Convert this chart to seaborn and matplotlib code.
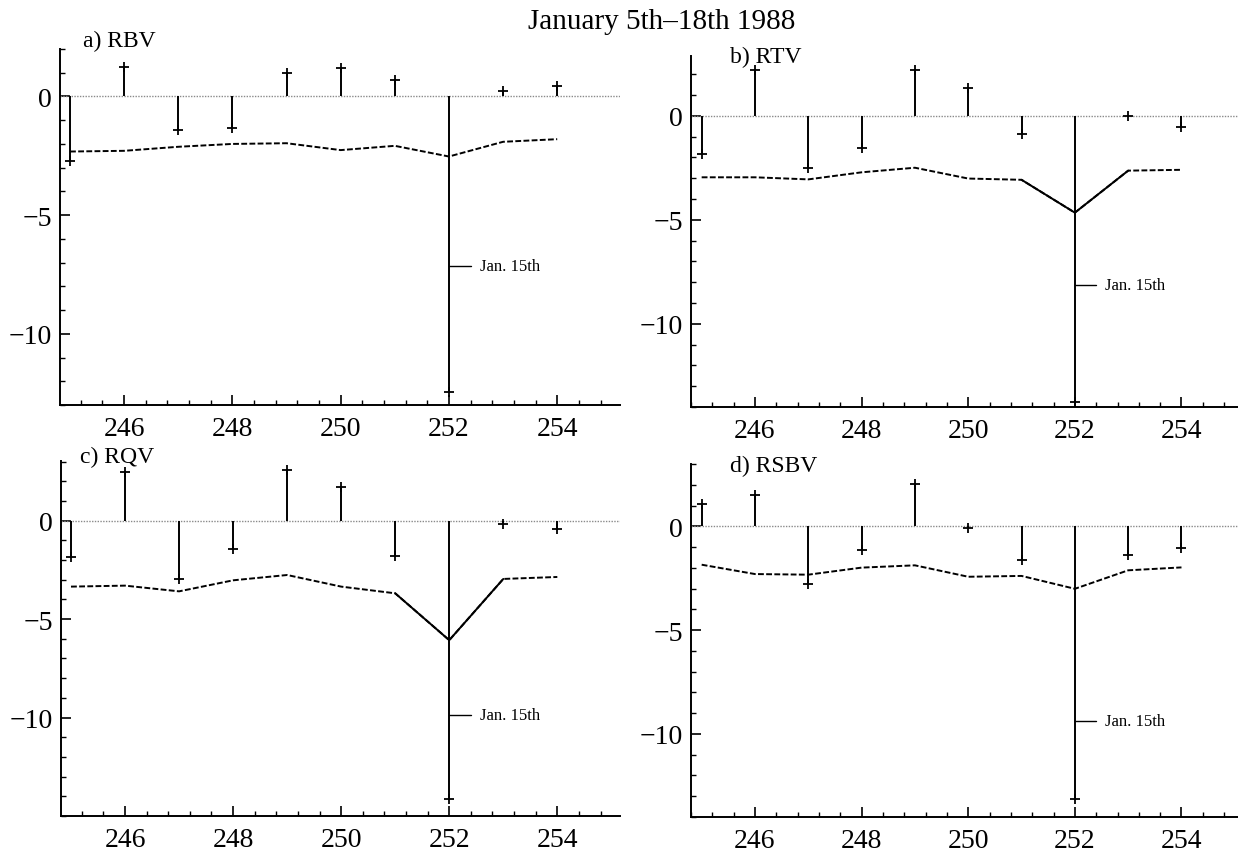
import matplotlib
matplotlib.use("Agg")
import matplotlib.pyplot as plt
import seaborn as sns
import numpy as np
import pandas as pd
from matplotlib.ticker import MultipleLocator, FixedLocator

# ---------------- data ----------------
days = [245, 246, 247, 248, 249, 250, 251, 252, 253, 254]

rbv = [-2.73, 1.25, -1.42, -1.34, 0.98, 1.2, 0.7, -12.47, 0.24, 0.42]
rbv_lim = [-2.32, -2.29, -2.12, -2.0, -1.97, -2.26, -2.08, -2.53, -1.91, -1.8]

rtv = [-1.82, 2.22, -2.5, -1.55, 2.2, 1.34, -0.88, -13.75, -0.03, -0.55]
rtv_lim = [-2.96, -2.96, -3.06, -2.72, -2.5, -3.02, -3.08, -4.66, -2.64, -2.6]

rqv = [-1.87, 2.47, -2.96, -1.45, 2.58, 1.72, -1.82, -14.15, -0.15, -0.42]
rqv_lim = [-3.35, -3.3, -3.59, -3.03, -2.76, -3.35, -3.69, -6.07, -2.96, -2.86]

rsbv = [1.08, 1.53, -2.78, -1.14, 2.03, -0.1, -1.62, -13.15, -1.4, -1.06]
rsbv_lim = [-1.85, -2.3, -2.33, -1.99, -1.88, -2.43, -2.39, -3.01, -2.12, -1.98]

panel_labels = ["a) RBV", "b) RTV", "c) RQV", "d) RSBV"]
event_day = 252
event_label = "Jan. 15th"
event_label_y = [-7.16, -8.16, -9.86, -9.39]
title = "January 5th\u201318th 1988"
x_major = [246, 248, 250, 252, 254]
y_major = [-10, -5, 0]

# ---------------- style ----------------
sns.set_theme(style="white")
plt.rcParams["font.family"] = ["Liberation Serif", "DejaVu Serif"]
plt.rcParams["mathtext.fontset"] = "stix"

fig = plt.figure(figsize=(12.38, 8.54), dpi=100)

W, H = 1238.0, 854.0
# pixel boxes (left, top, right, bottom)
boxes = [(60, 50, 620, 406), (691, 57, 1238, 408),
         (61, 462, 620, 817), (691, 465, 1238, 818)]
xlims = [(244.815, 255.16), (244.8, 255.06), (244.815, 255.16), (244.8, 255.06)]
ylims = [(-13.0, 2.0), (-14.0, 2.87), (-15.0, 3.03), (-14.0, 3.0)]
label_pos = [(0.041, 1.008), (0.072, 0.983), (0.034, 0.996), (0.072, 0.981)]
solid_peak = [False, True, True, False]

series = [(rbv, rbv_lim), (rtv, rtv_lim), (rqv, rqv_lim), (rsbv, rsbv_lim)]

for i, (vals, lim) in enumerate(series):
    l, t, r, b = boxes[i]
    ax = fig.add_axes([l / W, 1 - b / H, (r - l) / W, (b - t) / H])
    df = pd.DataFrame({"day": days, "val": vals, "lim": lim})

    ax.axhline(0, color="#8a8a8a", lw=1.0, ls=(0, (1, 1)), zorder=1)

    # stems
    ax.vlines(df["day"], 0, df["val"], color="black", lw=1.4, zorder=3)
    ax.plot(df["day"], df["val"], ls="none", marker="+", ms=7, mew=1.3,
            color="black", zorder=4)

    # threshold line
    sns.lineplot(data=df, x="day", y="lim", ax=ax, color="black", lw=1.4,
                 linestyle=(0, (3, 1.2)), zorder=2)
    if solid_peak[i]:
        sub = df.iloc[6:9]
        sns.lineplot(data=sub, x="day", y="lim", ax=ax, color="black",
                     lw=1.4, zorder=2)

    # event annotation
    ev = event_label_y[i]
    ax.plot([event_day, event_day + 0.4], [ev, ev], color="black", lw=1.0)
    ax.text(event_day + 0.57, ev, event_label, fontsize=12, va="center",
            ha="left", color="black")

    ax.set_xlim(*xlims[i])
    ax.set_ylim(*ylims[i])
    ax.set_xlabel("")
    ax.set_ylabel("")

    ax.xaxis.set_major_locator(FixedLocator(x_major))
    ax.xaxis.set_minor_locator(MultipleLocator(0.4))
    ax.yaxis.set_major_locator(FixedLocator(y_major))
    ax.yaxis.set_minor_locator(MultipleLocator(1))
    ax.set_xticklabels([str(v) for v in x_major])
    ax.set_yticklabels(["\u221210", "\u22125", "0"])

    ax.tick_params(axis="both", which="major", direction="in", length=7,
                   width=1.2, colors="black", labelsize=20, pad=6,
                   bottom=True, left=True)
    ax.tick_params(axis="both", which="minor", direction="in", length=3.5,
                   width=1.0, colors="black", bottom=True, left=True)
    ax.tick_params(axis="x", which="major", pad=8)

    for s in ["top", "right"]:
        ax.spines[s].set_visible(False)
    for s in ["left", "bottom"]:
        ax.spines[s].set_color("black")
        ax.spines[s].set_linewidth(1.4)
    ax.set_facecolor("white")

    ax.text(label_pos[i][0], label_pos[i][1], panel_labels[i],
            transform=ax.transAxes, fontsize=17, ha="left", va="baseline",
            color="black")
    if ax.get_legend() is not None:
        ax.get_legend().remove()

fig.text(662 / W, 1 - 29 / H, title, fontsize=21, ha="center",
         va="baseline", color="black")

fig.savefig("out.png", dpi=100, facecolor="white")
